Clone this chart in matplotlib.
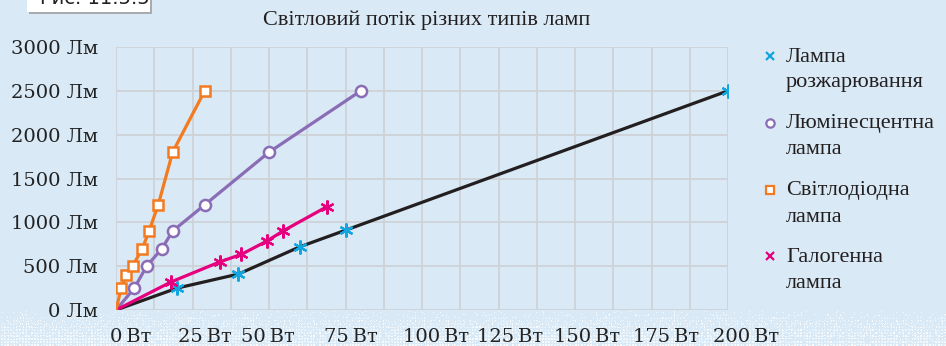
import numpy as np
import matplotlib
matplotlib.use("Agg")
import matplotlib.pyplot as plt
from matplotlib.lines import Line2D
from matplotlib.patches import Rectangle

# data (W -> lm)
inc_w = [0, 20, 40, 60, 75, 200]
inc_lm = [0, 250, 410, 720, 910, 2500]
flu_w = [0, 6, 10, 15, 18.5, 29, 50, 80]
flu_lm = [0, 250, 500, 700, 900, 1200, 1800, 2500]
led_w = [0, 1.7, 3.3, 5.4, 8.6, 10.8, 13.8, 18.5, 29]
led_lm = [0, 250, 400, 500, 700, 900, 1200, 1800, 2500]
hal_w = [0, 18, 34, 41, 49.5, 54.5, 69]
hal_lm = [0, 320, 550, 635, 790, 900, 1180]

x_ticks = [0, 25, 50, 75, 100, 125, 150, 175, 200]
y_ticks = [0, 500, 1000, 1500, 2000, 2500, 3000]
legend_names = [["Лампа", "розжарювання"], ["Люмінесцентна", "лампа"],
                ["Світлодіодна", "лампа"], ["Галогенна", "лампа"]]
title = "Світловий потік різних типів ламп"

BG = "#d9e9f5"
GRID = "#cdd2d6"
BLACK = "#231f20"
CYAN = "#12a6e0"
PURPLE = "#8a6db6"
ORANGE = "#f47a20"
MAGENTA = "#e6007e"

W, H = 946, 346
fig = plt.figure(figsize=(W / 100, H / 100), dpi=100, facecolor=BG)


def fx(px):
    return px / W


def fy(py):
    return 1 - py / H


# dotted band at the bottom
bg = fig.add_axes([0, 0, 1, 1], zorder=-5)
bg.axis("off")
img = np.zeros((H, W, 4))
img[..., :3] = matplotlib.colors.to_rgb(BG)
img[..., 3] = 1
yy, xx = np.mgrid[0:H, 0:W]
hashv = ((xx * 73 + yy * 151 + (xx * yy) % 97) % 29) / 29.0
dens = np.clip((yy - 310) / 30.0, 0, 1) * 0.7
dots = (hashv < dens) & (xx % 3 != 0) & (yy % 3 != 1)
img[dots, :3] = img[dots, :3] * 0.2 + 0.8
bg.imshow(img, extent=[0, 1, 0, 1], aspect="auto", interpolation="nearest")
bg.set_xlim(0, 1)
bg.set_ylim(0, 1)

ax = fig.add_axes([fx(116), fy(310), fx(728) - fx(116), fy(47) - fy(310)])
ax.set_facecolor(BG)
ax.set_xlim(0, 200)
ax.set_ylim(0, 3000)
for s in ax.spines.values():
    s.set_visible(False)
ax.set_xticks(x_ticks)
ax.set_xticks(np.arange(0, 201, 12.5), minor=True)
ax.set_xticklabels([])
ax.set_yticks(y_ticks)
ax.set_yticklabels([f"{v} Лм" for v in y_ticks], family="DejaVu Serif",
                   fontsize=14, color="#222222")
ax.tick_params(axis="both", which="both", length=0)
ax.tick_params(axis="y", pad=13)
ax.grid(True, which="both", color=GRID, lw=1.3)
ax.set_axisbelow(True)

# x labels sit a bit off their ticks in the original
x_shift = [15, 12, -1, 5, 14, 12, 12, 15, 18]
for v, dx in zip(x_ticks, x_shift):
    ax.annotate(f"{v}\u2009Вт", xy=(v, 0), xycoords=("data", "axes fraction"),
                xytext=(dx, -27), textcoords="offset pixels", ha="center",
                va="center", family="DejaVu Serif", fontsize=14,
                color="#222222", annotation_clip=False)

lw = 2.3
ax.plot(inc_w, inc_lm, color=BLACK, lw=lw, marker=(6, 2, 0), ms=10,
        mec=CYAN, mew=1.6, markevery=range(1, len(inc_w)), zorder=3)
ax.plot(flu_w, flu_lm, color=PURPLE, lw=lw, marker="o", ms=8, mfc="white",
        mec=PURPLE, mew=1.8, markevery=range(1, len(flu_w)), zorder=4)
ax.plot(led_w, led_lm, color=ORANGE, lw=lw, marker="s", ms=7.5, mfc="white",
        mec=ORANGE, mew=1.8, markevery=range(1, len(led_w)), zorder=5)
ax.plot(hal_w, hal_lm, color=MAGENTA, lw=lw, marker=(6, 2, 0), ms=10,
        mec=MAGENTA, mew=1.6, markevery=range(1, len(hal_w)), zorder=4)

fig.text(fx(427), fy(20), title, ha="center", va="center",
         family="Liberation Serif", fontsize=16, color="#231f20")

# legend
leg_marks = [("x", CYAN, CYAN), ("o", "white", PURPLE),
             ("s", "white", ORANGE), ("x", MAGENTA, MAGENTA)]
leg_y = [56, 123, 190, 256]
for (m, fc, ec), names, y in zip(leg_marks, legend_names, leg_y):
    fig.add_artist(Line2D([fx(770)], [fy(y)], transform=fig.transFigure,
                          marker=m, ms=6, mfc=fc, mec=ec, mew=1.6, ls="none"))
    for i, t in enumerate(names):
        fig.text(fx(786), fy(y + 1 + 26 * i), t, ha="left", va="center",
                 family="Liberation Serif", fontsize=16, color="#231f20")

# figure tag at the top left, cut off by the edge as in the original
fig.add_artist(Rectangle((fx(29), fy(14)), fx(152) - fx(29), fy(-10) - fy(14),
                         transform=fig.transFigure, facecolor="#a9abae",
                         edgecolor="none"))
fig.add_artist(Rectangle((fx(27), fy(12)), fx(150) - fx(27), fy(-10) - fy(12),
                         transform=fig.transFigure, facecolor="white",
                         edgecolor="none"))
fig.text(fx(95), fy(4), "Рис. 11.5.5", ha="center", va="baseline",
         family="DejaVu Sans", fontsize=14, color="#231f20")

fig.savefig("out.png", dpi=100, facecolor=BG)
